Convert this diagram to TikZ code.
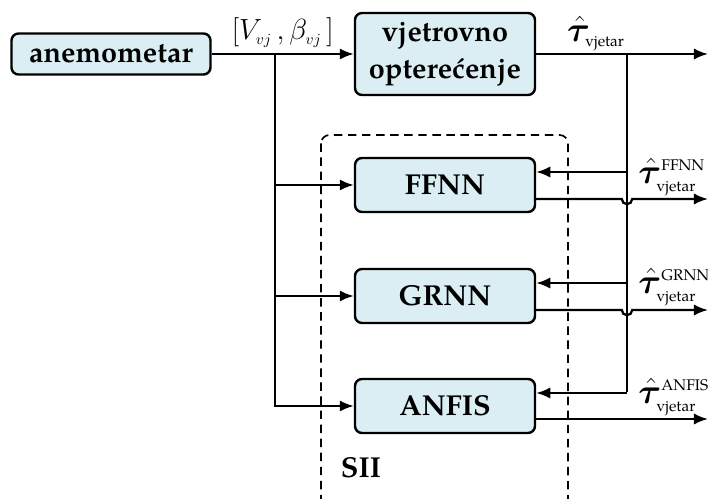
\documentclass[tikz,border=0pt]{standalone}
\usepackage{amsmath,bm}
\usepackage{fontspec}
\setmainfont{texgyrepagella}[Extension=.otf, UprightFont=*-regular, BoldFont=*-bold, ItalicFont=*-italic, BoldItalicFont=*-bolditalic]
\usepackage{xcolor}
\usetikzlibrary{arrows.meta, positioning, calc}
\definecolor{boxblue}{RGB}{218,238,243}
\newcommand{\sitno}[1]{\text{\fontsize{11}{12}\selectfont #1}}
\newcommand{\sitnom}[1]{\mbox{\fontsize{10.5}{12}\selectfont$#1$}}

\tikzset{
  blok/.style={draw, line width=1.7pt, rounded corners=5pt, fill=boxblue,
    minimum width=4.5cm, minimum height=1.35cm, inner sep=0pt, align=center,
    font=\fontsize{20.5}{26}\selectfont\bfseries},
  veza/.style={line width=1.6pt, -{Latex[length=10pt,width=8pt]}},
  linija/.style={line width=1.6pt},
  oznaka/.style={font=\fontsize{23}{27}\selectfont, inner sep=1pt}
}

\begin{document}
\begin{tikzpicture}
            \useasboundingbox (0,0) rectangle (17.7,-12.475);
            \begin{scope}
            \clip (0,0) rectangle (17.7,-12.475);
            % SII okvir
            \draw[line width=1.2pt, dash pattern=on 6pt off 4pt, rounded corners=6pt] (8.025,-3.375) rectangle (14.2,-13);
            \end{scope}
            \node[anchor=west, font=\fontsize{20.5}{24}\selectfont\bfseries] (sii) at (8.4,-11.7) {SII};
            % blokovi
            \node[blok, minimum width=4.975cm, minimum height=1.025cm] (anemo) at (2.775,-1.35) {anemometar};
            \node[blok, minimum height=2.05cm] (opter) at (11.125,-1.35) {vjetrovno\\optere\'cenje};
            \node[blok] (ffnn) at (11.125,-4.625) {FFNN};
            \node[blok] (grnn) at (11.125,-7.4) {GRNN};
            \node[blok] (anfis) at (11.125,-10.15) {ANFIS};
            % ulazi
            \coordinate (split) at (6.875,-1.35);
            \draw[veza] (anemo) -- (opter) node[oznaka, pos=0.5, above=3pt, font=\fontsize{21}{26}\selectfont] {$[V_{\sitnom{vj}}\,,\beta_{\sitnom{vj}}\,]$};
            \draw[linija] (split) -- (6.875,-10.15);
            \draw[veza] (split) |- (ffnn.west);
            \draw[veza] (split) |- (grnn.west);
            \draw[veza] (split) |- (anfis.west);
            % izlazi
            \coordinate (tap) at (15.675,-1.35);
            \coordinate (out0) at (17.7,-1.35);
            \draw[veza] (opter) -- (out0);
            \node[oznaka] (tau0) at (14.9,-0.84) {$\hat{\bm\tau}_{\sitno{vjetar}}$};
            \draw[linija] (tap) -- (15.675,-9.8);
            \foreach \b in {ffnn, grnn, anfis} {
              \draw[veza] ($(tap |- \b.east)+(0,0.325)$) -- ($(\b.east)+(0,0.325)$);
            }
            \foreach \b in {ffnn, grnn} {
              \draw[veza] ($(\b.east)+(0,-0.35)$) -- ($(tap |- \b.east)+(-0.13,-0.35)$)
                arc (180:360:0.13) -- ($(out0 |- \b.east)+(0,-0.35)$);
            }
            \draw[veza] ($(anfis.east)+(0,-0.325)$) -- ($(out0 |- anfis.east)+(0,-0.325)$);
            \node[oznaka, anchor=west] (tauffnn) at (15.92,-4.43) {$\hat{\bm\tau}^{\sitno{FFNN}}_{\sitno{vjetar}}$};
            \node[oznaka, anchor=west] (taugrnn) at (15.92,-7.18) {$\hat{\bm\tau}^{\sitno{GRNN}}_{\sitno{vjetar}}$};
            \node[oznaka, anchor=west] (tauanfis) at (15.92,-9.93) {$\hat{\bm\tau}^{\sitno{ANFIS}}_{\sitno{vjetar}}$};
        \end{tikzpicture}
\end{document}
